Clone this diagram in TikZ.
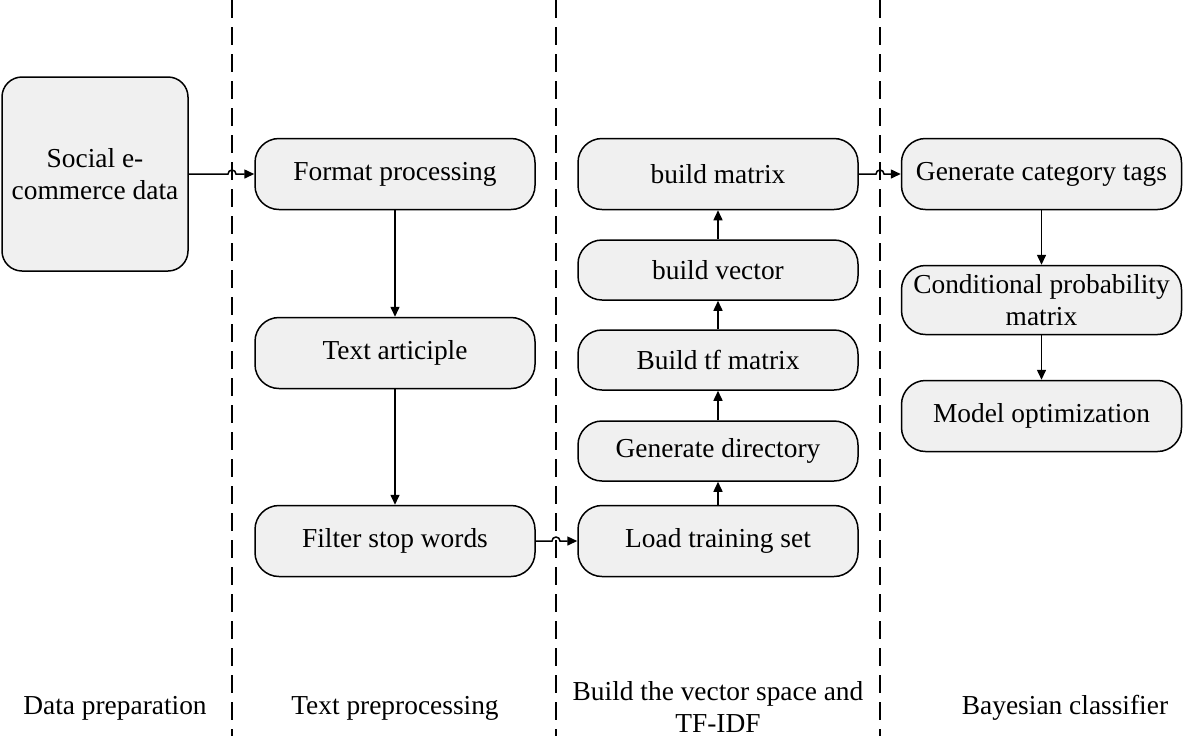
\documentclass[tikz,border=0pt]{standalone}
\usepackage{fontspec}
\setmainfont{Liberation Serif}
\usetikzlibrary{arrows.meta}

\tikzset{
  step box/.style={draw, line width=0.75pt, fill=black!6, rounded corners=12pt,
    minimum width=140pt, minimum height=35.5pt, align=center, font=\fontsize{13.7}{16}\selectfont},
  small box/.style={step box, minimum height=30pt},
  flow/.style={line width=0.75pt, -{Triangle[length=5pt,width=4.5pt]}},
  divider/.style={line width=1pt, dash pattern=on 9pt off 4.5pt},
  phase/.style={align=center, font=\fontsize{13.7}{16}\selectfont}
}

\begin{document}
\begin{tikzpicture}[x=0.5pt, y=0.5pt]

    \useasboundingbox (0,0) rectangle (1183,-736);

    % phase dividers
    \coordinate (sep1) at (232,0);
    \coordinate (sep2) at (556,0);
    \coordinate (sep3) at (880,0);

    \draw[divider] (sep1) -- ++(0,-736);
    \draw[divider] (sep2) -- ++(0,-736);
    \draw[divider] (sep3) -- ++(0,-736);

    % data preparation
    \node[step box, minimum width=93pt, minimum height=97pt, rounded corners=10pt]
      (social) at (95,-174) {Social e-\\commerce data};

    % text preprocessing
    \node[step box] (format) at (395,-174) {Format processing};
    \node[step box] (articiple) at (395,-353) {Text articiple};
    \node[step box] (filter) at (395,-541) {Filter stop words};

    % vector space and tf-idf
    \node[step box] (load) at (718,-541) {Load training set};
    \node[small box] (directory) at (718,-451) {Generate directory};
    \node[small box] (tfmatrix) at (718,-360) {Build tf matrix};
    \node[small box] (vector) at (718,-270) {build vector};
    \node[step box] (matrix) at (718,-174) {build matrix};

    % bayesian classifier
    \node[step box, inner xsep=2pt] (tags) at (1041.5,-174) {Generate category tags};
    \node[step box, inner xsep=2pt, minimum height=34.5pt] (condprob) at (1041.5,-300) {Conditional probability\\matrix};
    \node[step box] (optim) at (1041.5,-416) {Model optimization};

    % connectors
    \draw[flow] (social.east) -- ([xshift=-2pt]sep1 |- social.east)
      arc[start angle=180, end angle=0, radius=2pt] -- (format.west);
    \draw[flow] (format) -- (articiple);
    \draw[flow] (articiple) -- (filter);
    \draw[flow] (filter.east) -- ([xshift=-2pt]sep2 |- filter.east)
      arc[start angle=180, end angle=0, radius=2pt] -- (load.west);

    \draw[flow] (load) -- (directory);
    \draw[flow] (directory) -- (tfmatrix);
    \draw[flow] (tfmatrix) -- (vector);
    \draw[flow] (vector) -- (matrix);
    \draw[flow] (matrix.east) -- ([xshift=-2pt]sep3 |- matrix.east)
      arc[start angle=180, end angle=0, radius=2pt] -- (tags.west);

    \draw[flow] (tags) -- (condprob);
    \draw[flow] (condprob) -- (optim);

    % phase names
    \node[phase] (lblprep) at (115,-708) {Data preparation};
    \node[phase] (lbltext) at (395,-708) {Text preprocessing};
    \node[phase] (lblvec) at (718,-707) {Build the vector space and\\TF-IDF};
    \node[phase] (lblbayes) at (1065,-708) {Bayesian classifier};

  \end{tikzpicture}
\end{document}
